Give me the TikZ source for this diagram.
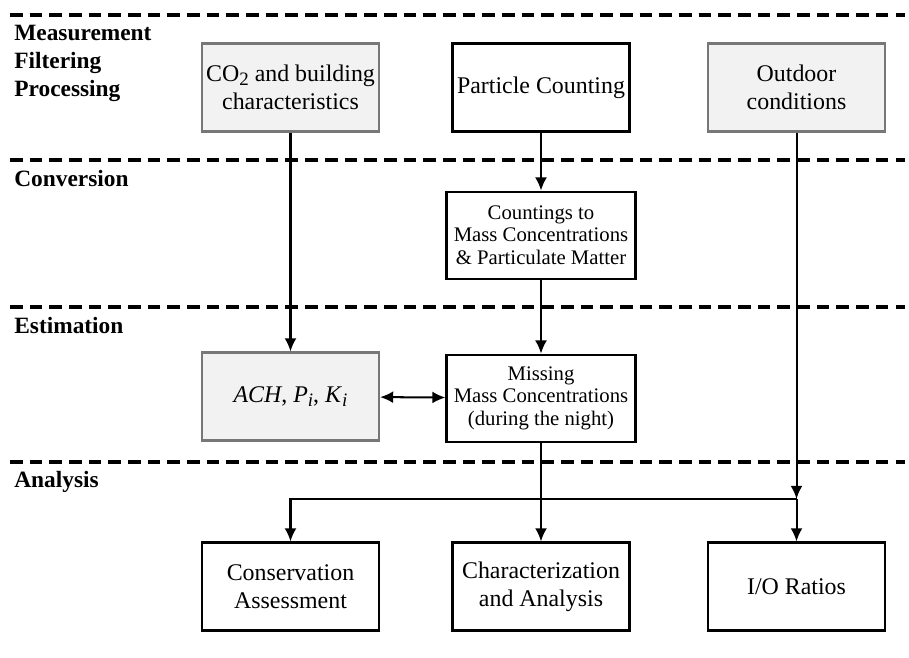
\documentclass[tikz,border=0pt]{standalone}
\usepackage{fontspec}
\setmainfont{Liberation Serif}
\usepackage{xcolor}
\usetikzlibrary{arrows.meta, positioning, calc}

\definecolor{boxgray}{HTML}{F2F2F2}
\definecolor{edgegray}{HTML}{777777}

\newcommand{\lowsub}[1]{\raisebox{-0.32ex}{\fontsize{10.8}{0}\selectfont #1}}

\begin{document}
\begin{tikzpicture}[
    x=0.02cm, y=-0.02cm,
    node distance=1.2cm and 1.3cm,
    block/.style={rectangle, draw=black, line width=1.2pt, fill=white, minimum width=3.54cm, minimum height=1.76cm, align=center, inner sep=2pt, font=\fontsize{13.6}{16}\selectfont},
    grayblock/.style={block, draw=edgegray, line width=1.2pt, fill=boxgray},
    midblock/.style={block, minimum width=3.78cm, minimum height=1.74cm, font=\fontsize{11.8}{12.8}\selectfont},
    stage/.style={anchor=north west, align=left, inner sep=0pt, font=\fontsize{13.3}{16}\selectfont\bfseries},
    sep/.style={draw=black, line width=2pt, dash pattern=on 7.2pt off 4pt},
    line/.style={draw=black, -{Latex[length=7.5pt,width=6.8pt]}, line width=1.15pt}
]
\useasboundingbox (0,0) rectangle (909,657);

% Stage separators
\foreach \yy in {15,160,307,462}
  \draw [sep] (10,\yy) -- (905,\yy);

% Stage labels
\node [stage] (lmeas) at (14,25) {Measurement\\Filtering\\Processing};
\node [stage] (lconv) at (14,170) {Conversion};
\node [stage] (lest) at (14,317) {Estimation};
\node [stage] (lana) at (14,471) {Analysis};

% Top Row: inputs
\node [grayblock] (co2) at (290.5,87.5) {CO\lowsub{2} and building\\characteristics};
\node [block] (count) at (541,87.5) {Particle Counting};
\node [grayblock] (outdoor) at (796.5,87.5) {Outdoor\\conditions};

% Conversion and estimation
\node [midblock, below=1.16cm of count] (conv) {Countings to\\Mass Concentrations\\\& Particulate Matter};
\node [midblock, below=1.48cm of conv] (missing) {Missing\\Mass Concentrations\\(during the night)};
\node [grayblock] (ach) at (290.5,396.5) {\textit{ACH}, \textit{P}\lowsub{\textit{i}}, \textit{K}\lowsub{\textit{i}}};

% Analysis outputs
\node [block] (cons) at (290.5,586.5) {Conservation\\Assessment};
\node [block] (charac) at (541,586.5) {Characterization\\and Analysis};
\node [block] (ratio) at (796.5,586.5) {I/O Ratios};

\coordinate (split) at (ratio.north |- 0,499);

% Connections
\path [line] (co2) -- (ach);
\path [line] (count) -- (conv);
\path [line] (conv) -- (missing);
\path [line, {Latex[length=7.5pt,width=6.8pt]}-{Latex[length=7.5pt,width=6.8pt]}] (ach) -- (missing);
\path [line] (missing) -- (charac);
\path [line] (outdoor) -- (split);
\path [line] (split) -- (ratio);
\path [line] (split) -| (cons);

\end{tikzpicture}
\end{document}
